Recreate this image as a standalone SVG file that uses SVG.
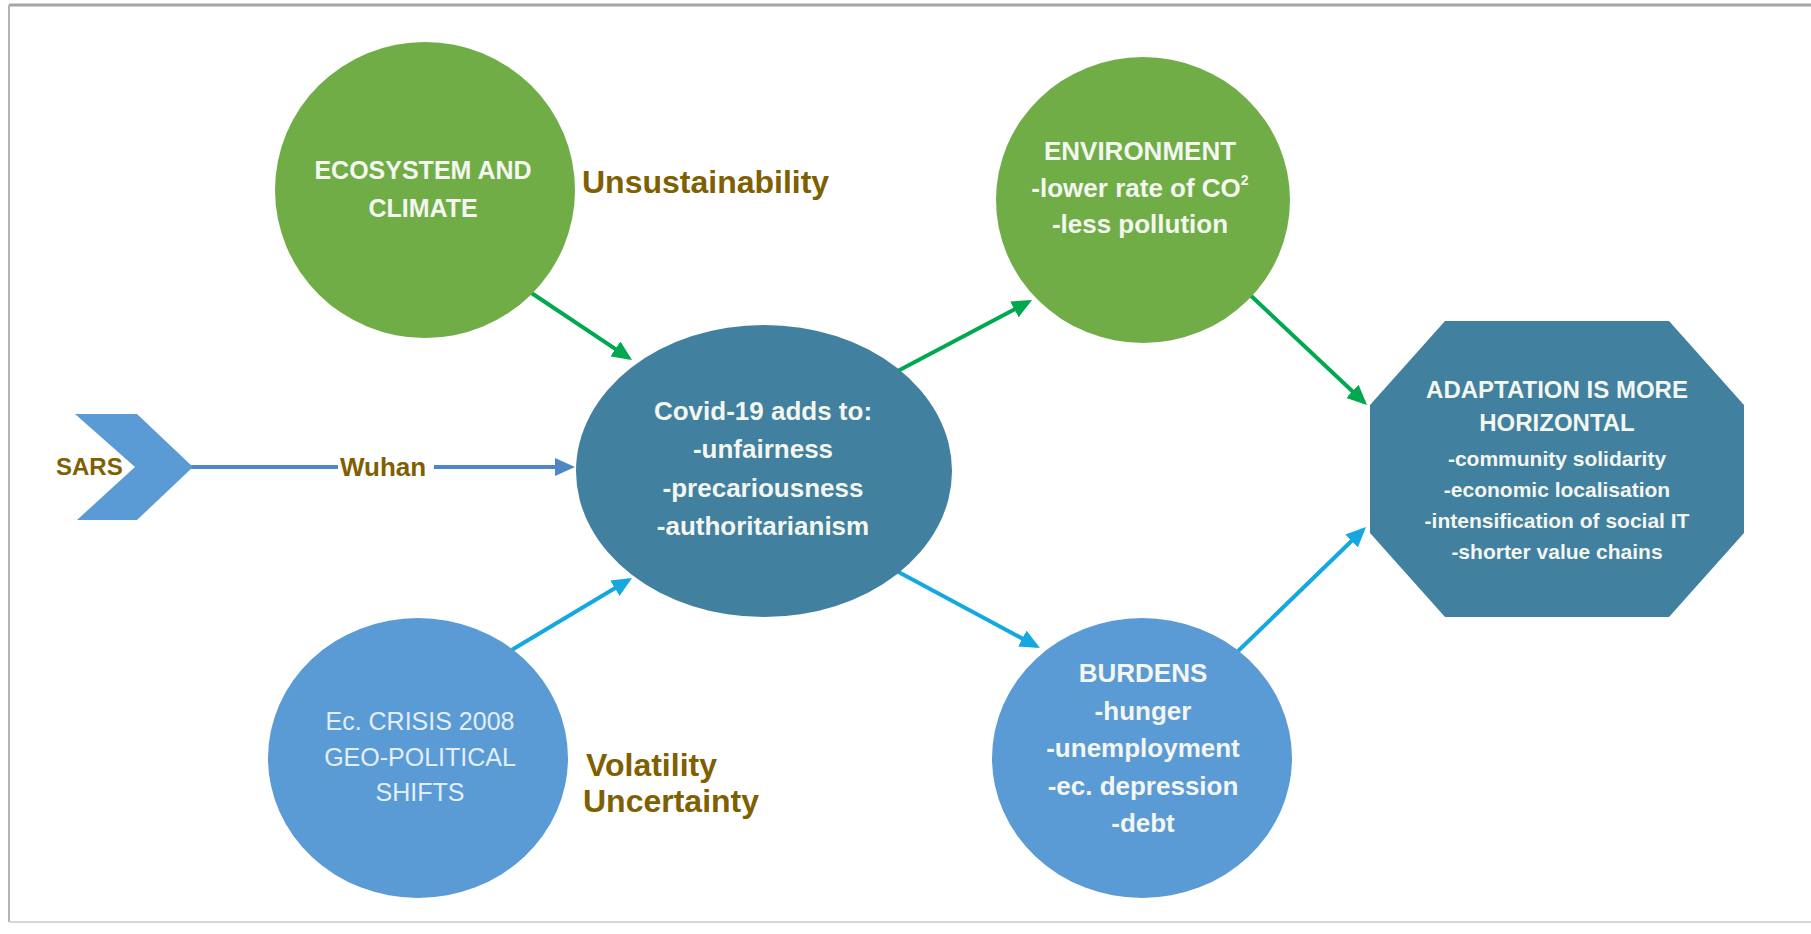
<svg xmlns="http://www.w3.org/2000/svg" width="1811" height="934" viewBox="0 0 1811 934">
<style>
.bg{fill:#ffffff}
.frame{stroke:#a6a6a6;fill:none}
.green{fill:#70ad47}
.teal{fill:#41809f}
.blue{fill:#5b9bd5}
.nt{font-family:"Liberation Sans",Arial,sans-serif;font-weight:bold;fill:#f4f6f0;text-anchor:middle}
.nr{font-family:"Liberation Sans",Arial,sans-serif;fill:#e2eef8;text-anchor:middle}
.lbl{font-family:"Liberation Sans",Arial,sans-serif;font-weight:bold;fill:#7f6000}
.cg{stroke:#00a850;stroke-width:4;fill:none}
.cb{stroke:#14a8e0;stroke-width:4;fill:none}
.cw{stroke:#4f86c6;stroke-width:4;fill:none}
</style>
<defs>
<marker id="ag" markerUnits="userSpaceOnUse" viewBox="0 0 20 18" refX="16" refY="9" markerWidth="20" markerHeight="18" orient="auto"><path d="M0,0 L20,9 L0,18 Z" fill="#00a850"/></marker>
<marker id="ab" markerUnits="userSpaceOnUse" viewBox="0 0 20 18" refX="16" refY="9" markerWidth="20" markerHeight="18" orient="auto"><path d="M0,0 L20,9 L0,18 Z" fill="#14a8e0"/></marker>
<marker id="aw" markerUnits="userSpaceOnUse" viewBox="0 0 20 18" refX="16" refY="9" markerWidth="20" markerHeight="18" orient="auto"><path d="M0,0 L20,9 L0,18 Z" fill="#4f86c6"/></marker>
</defs>
<rect class="bg" x="0" y="0" width="1811" height="934"/>
<g id="frame">
<line x1="9" y1="5" x2="1811" y2="5" stroke="#a6a6a6" stroke-width="3"/>
<line x1="9" y1="5" x2="9" y2="922" stroke="#b4b4b4" stroke-width="2"/>
<line x1="9" y1="922" x2="1811" y2="922" stroke="#d6d6d6" stroke-width="2"/>
</g>
<g id="connectors">
<path class="cg" d="M530,292 L628.7,357.8" marker-end="url(#ag)"/>
<path class="cg" d="M894,373 L1028.5,301.9" marker-end="url(#ag)"/>
<path class="cg" d="M1248,293 L1364.1,402.3" marker-end="url(#ag)"/>
<path class="cb" d="M510,651 L628.6,580" marker-end="url(#ab)"/>
<path class="cb" d="M891,568 L1036.4,646.1" marker-end="url(#ab)"/>
<path class="cb" d="M1233,656 L1363.1,529.8" marker-end="url(#ab)"/>
<path class="cw" d="M190,467 H338 M434,467 H571" marker-end="url(#aw)"/>
</g>
<g id="ecosystem">
<ellipse class="green" cx="425" cy="190" rx="150" ry="148"/>
<text class="nt" font-size="25" x="423" y="179">ECOSYSTEM AND</text>
<text class="nt" font-size="25" x="423" y="217">CLIMATE</text>
</g>
<g id="unsustainability">
<text class="lbl" font-size="32" x="582" y="193">Unsustainability</text>
</g>
<g id="environment">
<ellipse class="green" cx="1143" cy="200" rx="147" ry="143"/>
<text class="nt" font-size="26" x="1140" y="160">ENVIRONMENT</text>
<text class="nt" font-size="26" x="1140" y="197">-lower rate of CO<tspan font-size="14" dy="-12">2</tspan></text>
<text class="nt" font-size="26" x="1140" y="233">-less pollution</text>
</g>
<g id="covid">
<ellipse class="teal" cx="764" cy="471" rx="188" ry="146"/>
<text class="nt" font-size="26" x="763" y="420">Covid-19 adds to:</text>
<text class="nt" font-size="26" x="763" y="458">-unfairness</text>
<text class="nt" font-size="26" x="763" y="497">-precariousness</text>
<text class="nt" font-size="26" x="763" y="535">-authoritarianism</text>
</g>
<g id="sars">
<polygon class="blue" points="75,414 137,414 193,467 137,520 77,520 135,467"/>
<text class="lbl" font-size="24" x="56" y="475">SARS</text>
</g>
<g id="wuhan">
<text class="lbl" font-size="26" x="340" y="476">Wuhan</text>
</g>
<g id="crisis">
<ellipse class="blue" cx="418" cy="758" rx="150" ry="140"/>
<text class="nr" font-size="25" x="420" y="730">Ec. CRISIS 2008</text>
<text class="nr" font-size="25" x="420" y="766">GEO-POLITICAL</text>
<text class="nr" font-size="25" x="420" y="801">SHIFTS</text>
</g>
<g id="volatility">
<text class="lbl" font-size="32" x="586" y="776">Volatility</text>
<text class="lbl" font-size="32" x="583" y="812">Uncertainty</text>
</g>
<g id="burdens">
<ellipse class="blue" cx="1142" cy="758" rx="150" ry="140"/>
<text class="nt" font-size="26" x="1143" y="682">BURDENS</text>
<text class="nt" font-size="26" x="1143" y="720">-hunger</text>
<text class="nt" font-size="26" x="1143" y="757">-unemployment</text>
<text class="nt" font-size="26" x="1143" y="795">-ec. depression</text>
<text class="nt" font-size="26" x="1143" y="832">-debt</text>
</g>
<g id="adaptation">
<polygon class="teal" points="1445,321 1669,321 1744,405 1744,533 1669,617 1445,617 1370,533 1370,405"/>
<text class="nt" font-size="24" x="1557" y="398">ADAPTATION IS MORE</text>
<text class="nt" font-size="24" x="1557" y="431">HORIZONTAL</text>
<text class="nt" font-size="21" x="1557" y="466">-community solidarity</text>
<text class="nt" font-size="21" x="1557" y="497">-economic localisation</text>
<text class="nt" font-size="21" x="1557" y="528">-intensification of social IT</text>
<text class="nt" font-size="21" x="1557" y="559">-shorter value chains</text>
</g>
</svg>
